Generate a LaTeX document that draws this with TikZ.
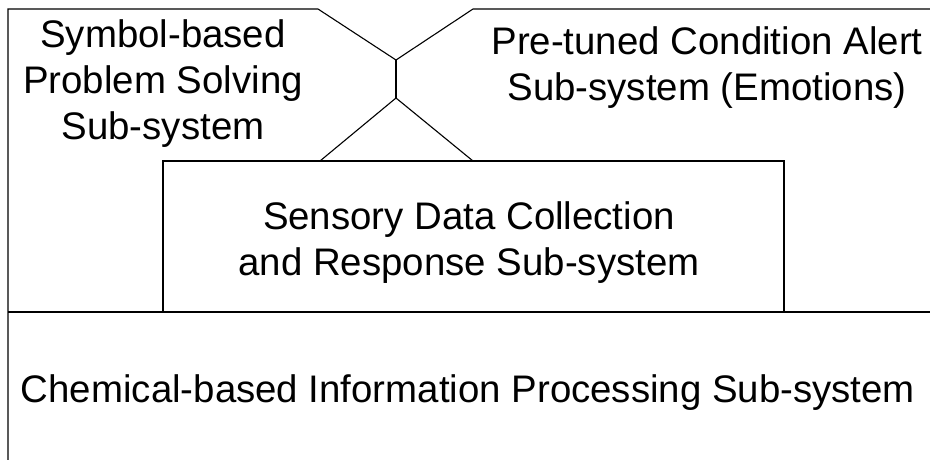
\documentclass[tikz,border=0pt]{standalone}
\usepackage{fontspec}
\setmainfont{Liberation Sans}
\begin{document}
\begin{tikzpicture}[x=1pt,y=-1pt,line width=1.1pt,line join=miter,
		txt/.style={align=center,inner sep=0pt,font=\fontsize{38.4}{46}\selectfont}]
		\useasboundingbox (0,0) rectangle (930,460);
		% outline of the upper sub-systems
		\coordinate (topl) at (8,9);
		\coordinate (notchl) at (318,9);
		\coordinate (notchr) at (473,9);
		\coordinate (waist) at (396,60);
		\coordinate (neck) at (396,98);
		\draw (8,460) -- (topl) -- (notchl) -- (waist) -- (notchr) -- (930,9);
		\draw (waist) -- (neck);
		\draw (320,161) -- (neck) -- (473,161);
		
		% sensory box and bottom layer
		\draw (163,312) -- (163,161) -- (784,161) -- (784,312);
		\draw (8,312) -- (930,312);
		
		\node[txt] (symbol) at (163,84) {Symbol-based\\Problem Solving\\Sub-system};
		\node[txt] (alert) at (707,68) {Pre-tuned Condition Alert\\Sub-system (Emotions)};
		\node[txt] (sensory) at (469,243) {Sensory Data Collection\\and Response Sub-system};
		\node[txt] (chemical) at (468,393) {Chemical-based Information Processing Sub-system};
	\end{tikzpicture}
\end{document}
